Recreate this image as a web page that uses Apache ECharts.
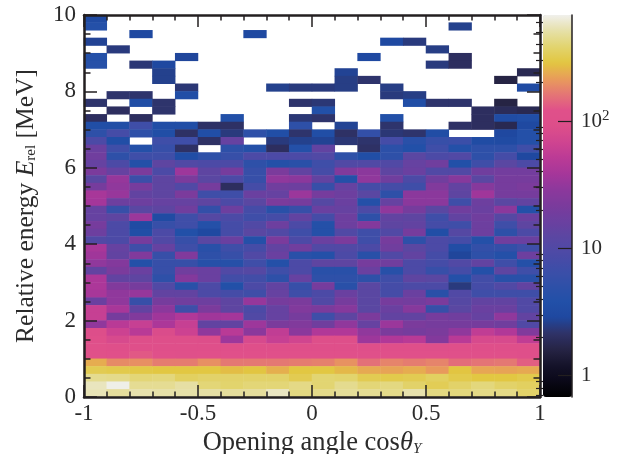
<!DOCTYPE html>
<html>
<head>
<meta charset="utf-8">
<style>html,body{margin:0;padding:0;background:#fff}#c{width:620px;height:454px}</style>
<script src="https://cdn.jsdelivr.net/npm/echarts@6/dist/echarts.min.js"></script>
</head>
<body>
<div id="c"></div>
<script>
// Counts per cell. Rows run from the top of the plot (9.8-10 MeV) down to 0-0.2 MeV; 0 = empty cell.
const counts = [
[3.2,0,0,0,0,0,0,0,0,0,0,0,0,0,0,0,0,0,0,0],
[4,0,0,0,0,0,0,0,0,0,0,0,0,0,0,0,2.6,0,0,0],
[0,0,3,0,0,0,0,3,0,0,0,0,0,0,0,0,0,0,0,0],
[2.7,0,0,0,0,0,0,0,0,0,0,0,0,3,2.4,0,0,0,0,0],
[0,2.4,0,0,0,0,0,0,0,0,0,0,0,0,0,2.5,0,0,0,0],
[4,0,0,0,2.8,0,0,0,0,0,0,0,3,0,0,0,2,0,0,0],
[4.2,0,2.3,2.9,0,0,0,0,0,0,0,0,0,0,0,2.4,2,0,0,0],
[0,0,0,2.6,0,0,0,0,0,0,0,2.7,0,0,0,0,0,0,0,1.8],
[0,0,0,2.6,0,0,0,0,0,0,0,2.5,2.2,0,0,0,0,0,1.6,0],
[0,0,0,0,2.3,0,0,0,2.6,2.4,2.4,2.5,0,2.5,0,0,0,0,0,3.2],
[0,2.2,2.2,0,3.6,0,0,0,0,0,0,0,0,2.4,2.5,0,0,0,0,0],
[2.2,0,3.5,2.2,0,0,0,0,0,2.2,2.3,0,0,0,3.6,2.2,2.2,0,1.6,0],
[0,2,0,2.2,0,0,0,0,0,0,3.8,0,0,0,0,0,0,2,1.9,1.8],
[2,0,2,0,0,0,3.8,0,0,2.3,2.2,0,0,3.8,0,0,0,2,3.3,3.6],
[3.6,3.6,7,3.6,3.6,2.1,2.1,0,0,5,0,2.7,0,2.2,0,0,2.1,2,1.8,3],
[5,8,5,3.6,2.1,3.6,2.4,5,3.6,2.2,3.6,2.1,5.5,2.3,2.2,3.4,0,0,2.9,4],
[9,3.6,0,7,7,2.1,15,0,2.4,2.6,2.7,2.3,2.2,8,4.5,6,6.5,3.3,3.2,4],
[16,7,4,6,2.1,0,5,4,2,4,14,0,2.1,4.8,3.8,7,4,5,5,7],
[18,5,7,7,3.4,5,6,9,9,9,10,5,3.6,5,12,9,10,5,8,2.9],
[15,9,4,13,10,9,9,5,4,4.5,7,10,10,10,15,18,3.8,7,12,9],
[22,15,22,9,35,13,20,6,22,14,8,24,28,13,16,10,10,18,19,19],
[12,32,6.5,13,22,12,9,6,30,28,14,4,30,18,9,18,26,12,20,20],
[20,30,20,13,10,20,2,8,18,17,6,15,8,8,7,24,14,26,20,22],
[40,33,14,13,22,7,7,16,15,34,20,17,12,5,28,28,13,36,20,20],
[38,17,17,15,15,13,9,12,22,20,11,16,4,15,28,28,7,17,12,14],
[15,6,12,13,18,5.5,17,8,4.5,6,16,15,9,30,20,12,18,16,28,4],
[15,13,34,3.2,7,11,9,7,8,14,8,17,5,14,13,7,14,18,11,16],
[20,9,3.2,6,7,4,8,10,17,9,4,17,25,13,14,8,7,17,7,13],
[17,9,3.6,9,3.8,3,8,12,10,7,4,10,7,10,20,3.6,11,17,5,9],
[10,9,20,10,6,12,16,4,22,9,16,22,7,20,5,9,8,4,18,16],
[40,15,7,15,7,4.5,7,8,14,18,10,10,9,18,12,9,3.4,5.5,5.5,7],
[36,14,24,6,24,5,6,10,16,4.5,4,9,4.5,10,14,8,2.8,5,4,17],
[30,25,4,6,6,4.2,4.2,7,4,9,13,13,20,18,9,8,10,14,7,4],
[14,22,16,6,18,16,10,11,7,9,4.5,4.5,16,4.3,9,6,8,4,13,7],
[42,14,13,5,25,16,7.5,7.5,5,15,5,5,5,7,13,12,4,7.5,4.5,4.5],
[42,24,20,10,4.5,9,3.8,9,14,6,20,4.5,12,8,9,9,2.4,8,10,14],
[40,30,32,14,14,9,8,7,15,7,9,16,12,8,16,4.5,10,7,7,7],
[16,30,6,20,18,17,13,32,20,22,10,20,12,20,19,22,11,14,14,10],
[60,40,14,28,7,22,13,9,15,24,22,26,12,16,26,6,12,16,16,10],
[60,20,24,36,45,36,38,10,15,20,7,13,22,14,14,20,18,15,30,14],
[30,50,60,42,60,14,14,35,22,24,18,30,15,34,22,20,20,20,18,10],
[90,65,50,85,65,30,50,28,55,28,45,45,30,22,20,22,30,55,45,24],
[110,80,100,100,100,90,35,80,60,70,100,100,35,45,50,25,50,80,80,55],
[118,112,112,108,108,112,110,108,112,108,112,112,112,105,108,100,108,108,112,105],
[122,118,130,118,115,118,118,120,118,118,118,118,118,120,118,116,118,118,118,112],
[240,190,195,170,170,195,165,165,165,170,175,200,155,180,170,180,150,160,165,135],
[320,310,300,290,290,290,270,285,245,290,290,260,235,225,240,210,285,230,225,235],
[450,440,400,410,350,370,370,370,370,320,390,380,320,310,320,350,310,290,290,310],
[560,670,460,460,500,400,380,400,400,430,390,450,400,420,370,330,370,410,370,350],
[540,480,520,510,510,500,480,480,570,420,440,470,460,440,520,420,410,430,430,370]
];
const xBins = counts[0].map((_, i) => String(i));
const yBins = counts.map((_, i) => String(i));
const xLabels = {'-1':'-1','-0.5':'-0.5','0':'0','0.5':'0.5','1':'1'};
const barMajor = [1, 10, 100];
const barMinor = [0.7,0.8,0.9,2,3,4,5,6,7,8,9,20,30,40,50,60,70,80,90,200,300,400,500,600];
const barMin = 0.68, barMax = 680;
// colour ramp sampled bottom-to-top from the colour bar
const ramp = ['#000000','#0a0818','#15132a','#262445','#2f3268','#1f48a0','#2250a8','#2f50a8','#3d4ea8','#4c4aa6','#5a47a2','#6a40a0','#7a3b9c','#8c389c','#a5369a','#bb3a96','#cf4490','#dd4e8a','#e0508a','#e47575','#e89c5a','#e2c640','#e2d46e','#e6e0a8','#f0f0ec'];

const FONT = 'Liberation Serif';
const INK = '#231f20';
const TXT = '#2b2b2b';
const cells = [];
counts.forEach((row, r) => row.forEach((v, c) => {
  if (v > 0) cells.push([c, counts.length - 1 - r, v, Math.log10(v)]);
}));
const rect = {left: 84, right: 80, top: 15, height: 382, containLabel: false, outerBoundsMode: 'none'};
const frame = (extra) => Object.assign({
  type: 'value', gridIndex: 1, z: 10,
  axisLine: {show: true, onZero: false, lineStyle: {color: INK, width: 2.5}},
  axisTick: {show: true, inside: true, length: 12, lineStyle: {color: INK, width: 1.5}},
  minorTick: {show: true, length: 5.5, lineStyle: {color: INK, width: 1.5}},
  axisLabel: {show: false},
  splitLine: {show: false}, minorSplitLine: {show: false}
}, extra);
const labelStyle = {show: true, fontFamily: FONT, fontSize: 23, color: TXT};
const chart = echarts.init(document.getElementById('c'), null, {renderer: 'canvas'});
chart.setOption({
  animation: false,
  backgroundColor: '#fff',
  grid: [
    Object.assign({}, rect),
    Object.assign({}, rect),
    {left: 543, right: 48, top: 15, height: 382, containLabel: false, outerBoundsMode: 'none'}
  ],
  xAxis: [
    {type: 'category', gridIndex: 0, data: xBins, show: false},
    frame({min: -1, max: 1, interval: 0.5, position: 'bottom',
      minorTick: {show: true, splitNumber: 5, length: 5.5, lineStyle: {color: INK, width: 1.5}},
      axisLabel: Object.assign({}, labelStyle, {margin: 5, formatter: v => xLabels[String(v)]}),
      name: 'Opening angle cos{i|θ}{s|Y}', nameLocation: 'middle', nameGap: 29,
      nameTextStyle: {fontFamily: FONT, fontSize: 26.5, color: TXT,
        rich: {i: {fontFamily: FONT, fontSize: 26.5, fontStyle: 'italic', color: TXT},
               s: {fontFamily: FONT, fontSize: 15, fontStyle: 'italic', color: TXT, padding: [12, 0, 0, 0]}}}}),
    frame({min: -1, max: 1, interval: 0.5, position: 'top',
      minorTick: {show: true, splitNumber: 5, length: 5.5, lineStyle: {color: INK, width: 1.5}}}),
    {type: 'value', gridIndex: 2, min: 0, max: 1, show: false}
  ],
  yAxis: [
    {type: 'category', gridIndex: 0, data: yBins, show: false},
    frame({min: 0, max: 10, interval: 2, position: 'left',
      minorTick: {show: true, splitNumber: 4, length: 6.5, lineStyle: {color: INK, width: 1.5}},
      axisTick: {show: true, inside: true, length: 13, lineStyle: {color: INK, width: 1.5}},
      axisLabel: Object.assign({}, labelStyle, {margin: 8}),
      name: 'Relative energy {i|E}{s|rel} [MeV]', nameLocation: 'middle', nameGap: 45,
      nameTextStyle: {fontFamily: FONT, fontSize: 25.5, color: TXT,
        rich: {i: {fontFamily: FONT, fontSize: 25.5, fontStyle: 'italic', color: TXT},
               s: {fontFamily: FONT, fontSize: 15, color: TXT, padding: [10, 0, 0, 0]}}}}),
    frame({min: 0, max: 10, interval: 2, position: 'right',
      minorTick: {show: true, splitNumber: 4, length: 6.5, lineStyle: {color: INK, width: 1.5}},
      axisTick: {show: true, inside: true, length: 13, lineStyle: {color: INK, width: 1.5}}}),
    {type: 'value', gridIndex: 2, position: 'right', z: 10,
      min: Math.log10(barMin), max: Math.log10(barMax),
      axisLine: {show: true, onZero: false, lineStyle: {color: INK, width: 1.5}},
      axisTick: {show: true, inside: true, length: 14, customValues: barMajor.map(Math.log10), lineStyle: {color: INK, width: 1.2}},
      axisLabel: {show: true, fontFamily: FONT, fontSize: 21, color: TXT, margin: 9,
        customValues: barMajor.map(Math.log10),
        formatter: v => {
          const p = Math.round(v);
          return p === 0 ? '1' : p === 1 ? '10' : '10{s|' + p + '}';
        },
        rich: {s: {fontFamily: FONT, fontSize: 15, color: TXT, padding: [0, 0, 10, 0]}}},
      splitLine: {show: false}},
    {type: 'value', gridIndex: 2, position: 'right', z: 10,
      min: Math.log10(barMin), max: Math.log10(barMax),
      axisLine: {show: false},
      axisTick: {show: true, inside: true, length: 7, customValues: barMinor.map(Math.log10), lineStyle: {color: INK, width: 1.2}},
      axisLabel: {show: false},
      splitLine: {show: false}}
  ],
  visualMap: {
    type: 'continuous', dimension: 3, seriesIndex: 0,
    min: Math.log10(barMin), max: Math.log10(barMax),
    calculable: false, hoverLink: false, realtime: false,
    left: 543, top: 15, padding: 0, itemWidth: 29, itemHeight: 382,
    text: null, showLabel: false,
    inRange: {color: ramp},
    z: 4
  },
  series: [{
    type: 'heatmap', xAxisIndex: 0, yAxisIndex: 0,
    data: cells, encode: {x: 0, y: 1},
    progressive: 0, silent: true,
    itemStyle: {borderWidth: 0}
  }]
});
</script>
</body>
</html>
